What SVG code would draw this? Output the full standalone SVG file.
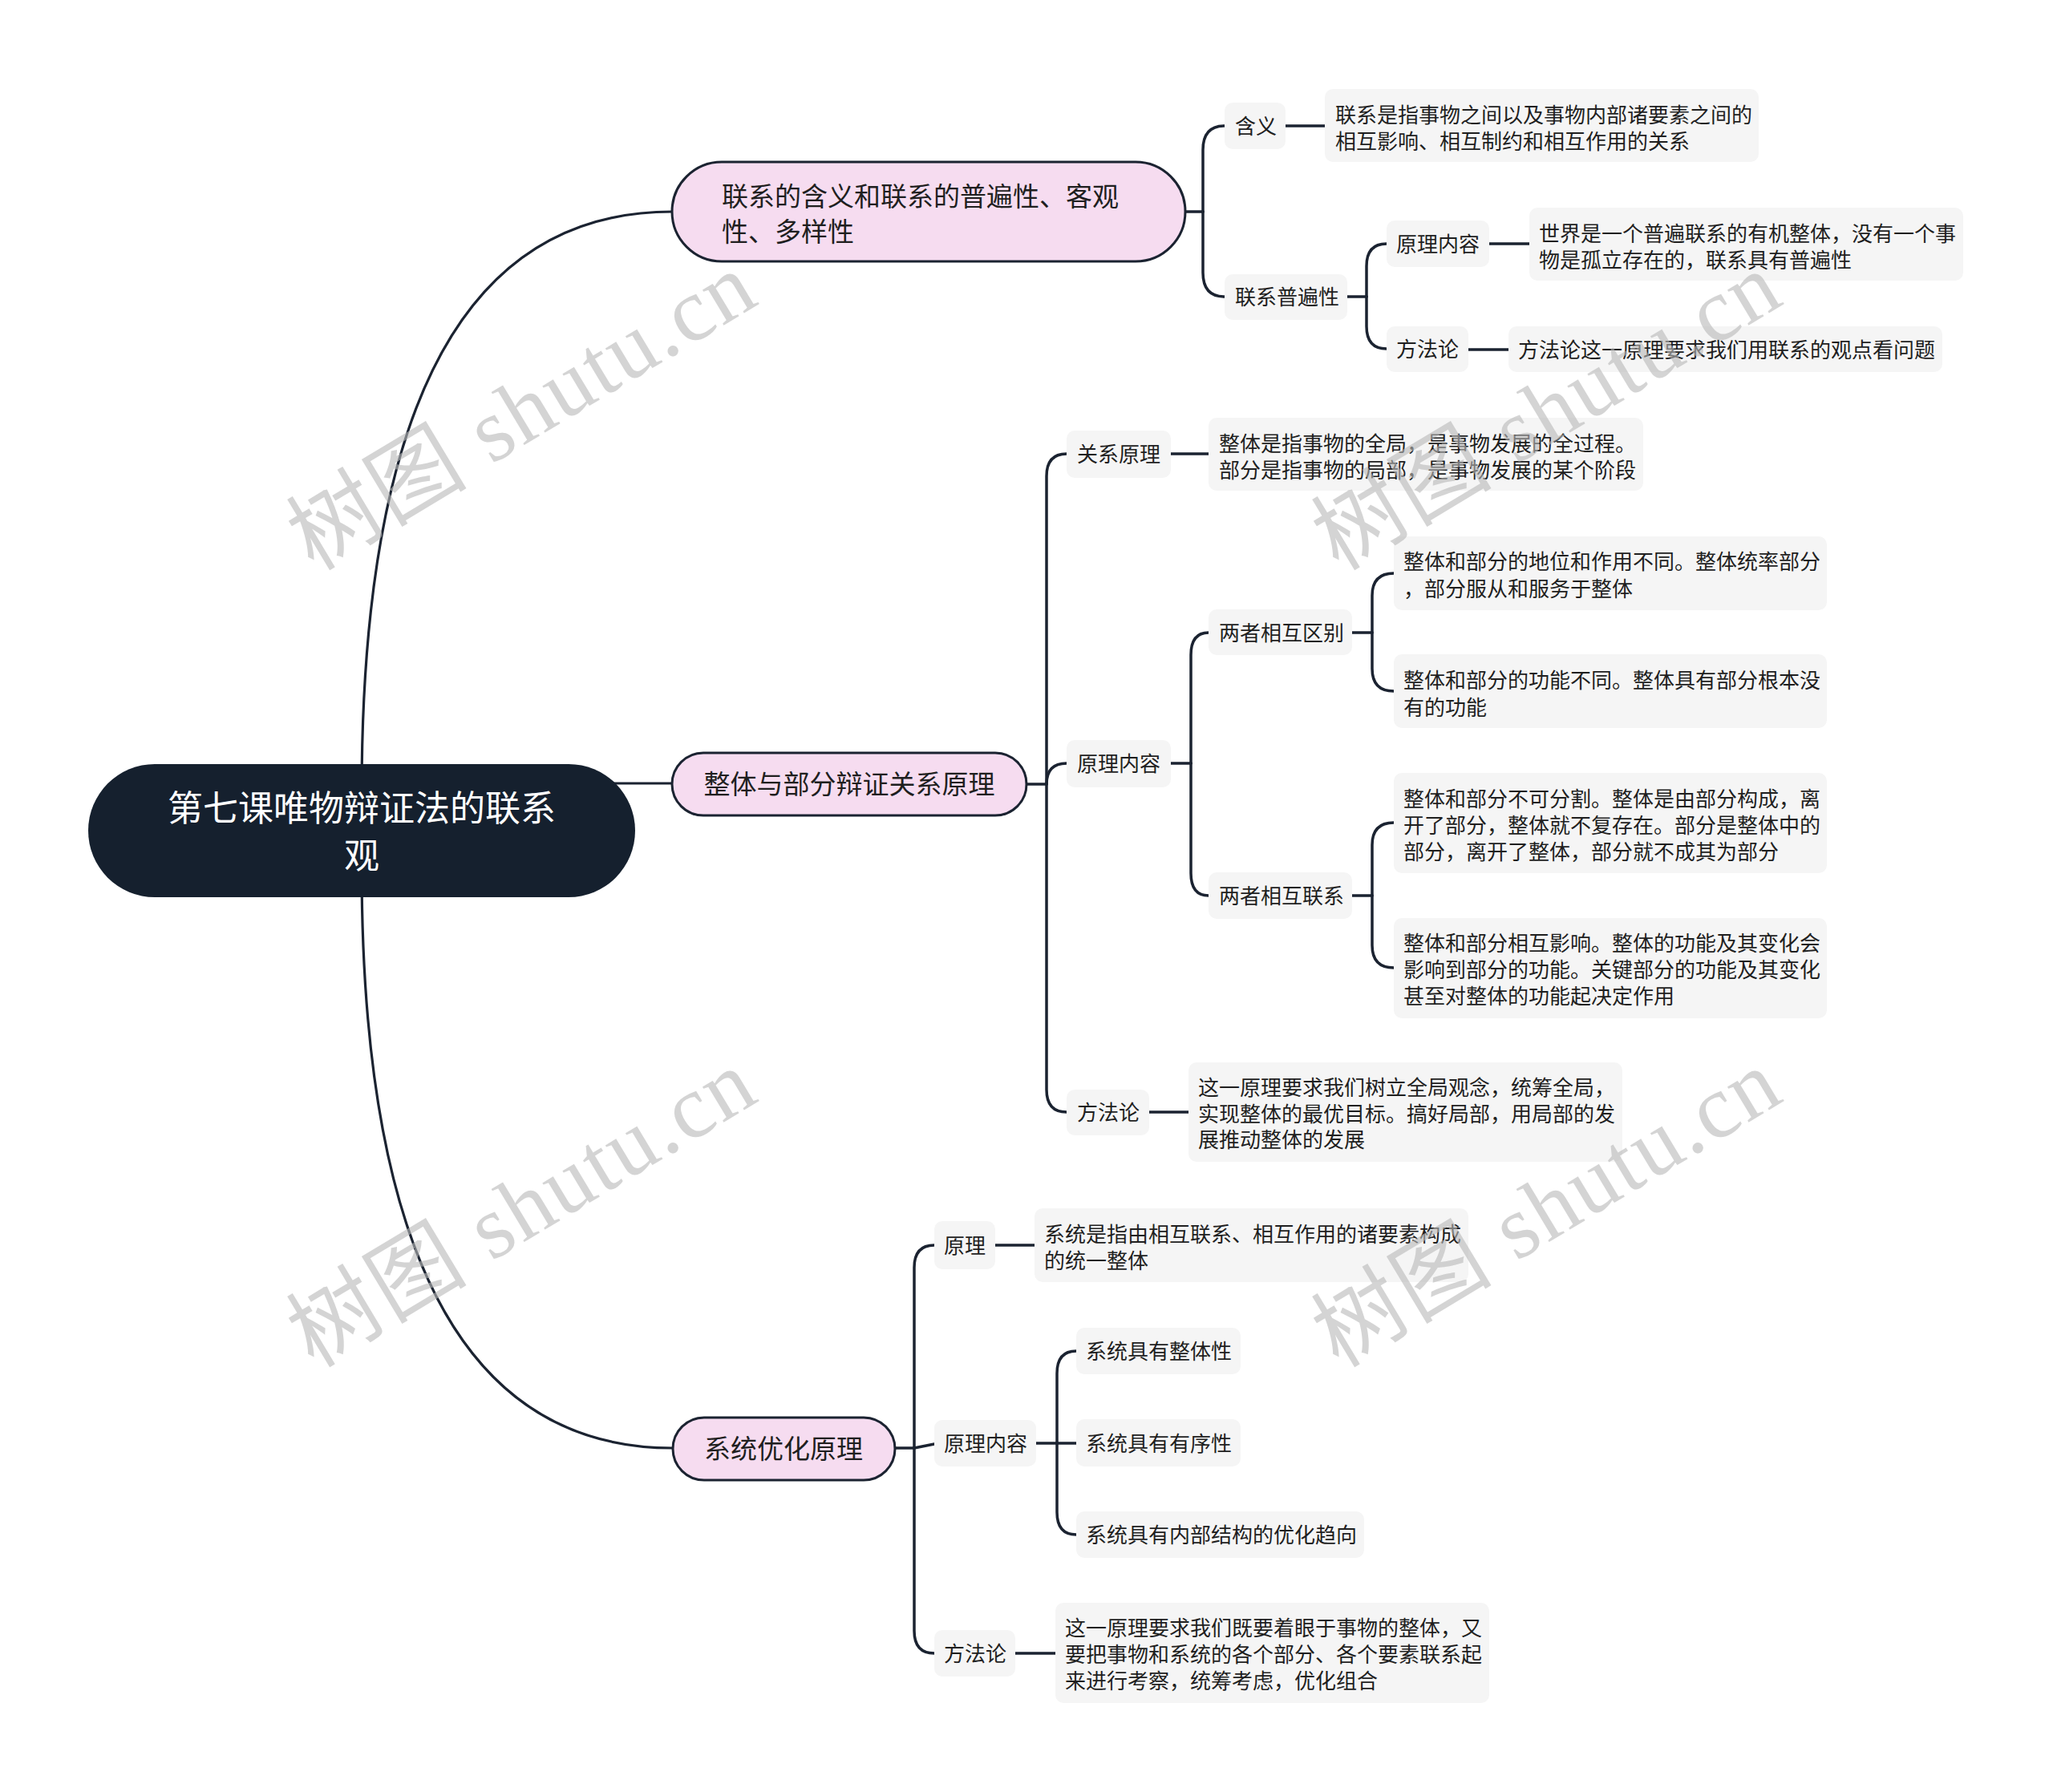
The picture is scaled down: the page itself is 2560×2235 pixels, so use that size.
<svg xmlns="http://www.w3.org/2000/svg" width="2560" height="2235" viewBox="0 0 2560 2235">
<style>
.bg{fill:#ffffff}
.lbl{fill:#f5f5f5}
.br{fill:#f6dcf0;stroke:#1b2331;stroke-width:3}
.t{font-family:"Noto Sans CJK SC","Noto Sans",sans-serif;font-size:26px;fill:#1f1f1f}
.tb{font-family:"Noto Sans CJK SC","Noto Sans",sans-serif;font-size:33px;fill:#1f1f1f}
.tr{font-family:"Noto Sans CJK SC","Noto Sans",sans-serif;font-size:44px;fill:#ffffff}
.conn{fill:none;stroke:#1b2331;stroke-width:3.5;stroke-linecap:round}
.main{fill:none;stroke:#1b2331;stroke-width:3.2}
.wm{font-family:"Liberation Serif","Noto Sans CJK SC",serif;font-size:112px;fill:#b8b8b8;fill-opacity:0.6}
</style>
<rect class="bg" x="0" y="0" width="2560" height="2235"/>
<g id="connectors">
<path class="main" d="M451 990 Q451 264 838 264"/>
<path class="main" d="M700 977 L838 977"/>
<path class="main" d="M451 1080 Q451 1806 839 1806"/>
<path class="conn" d="M1478 264 L1500 264"/>
<path class="conn" d="M1500 264 L1500 187 Q1500 157 1527 157"/>
<path class="conn" d="M1500 264 L1500 340 Q1500 370 1527 370"/>
<path class="conn" d="M1603 157 L1652 157"/>
<path class="conn" d="M1680 370 L1704 370"/>
<path class="conn" d="M1704 370 L1704 332 Q1704 304 1729 304"/>
<path class="conn" d="M1704 370 L1704 407 Q1704 435 1729 435"/>
<path class="conn" d="M1857 304 L1907 304"/>
<path class="conn" d="M1831 436 L1881 436"/>
<path class="conn" d="M1280 978 L1305 978"/>
<path class="conn" d="M1305 978 L1305 594 Q1305 566 1330 566"/>
<path class="conn" d="M1305 978 Q1305 952 1330 952"/>
<path class="conn" d="M1305 978 L1305 1359 Q1305 1387 1330 1387"/>
<path class="conn" d="M1460 566 L1507 566"/>
<path class="conn" d="M1459 952 L1485 952"/>
<path class="conn" d="M1485 952 L1485 817 Q1485 789 1507 789"/>
<path class="conn" d="M1485 952 L1485 1089 Q1485 1117 1507 1117"/>
<path class="conn" d="M1686 789 L1711 789"/>
<path class="conn" d="M1711 789 L1711 743 Q1711 715 1738 715"/>
<path class="conn" d="M1711 789 L1711 834 Q1711 862 1738 862"/>
<path class="conn" d="M1686 1117 L1711 1117"/>
<path class="conn" d="M1711 1117 L1711 1054 Q1711 1026 1738 1026"/>
<path class="conn" d="M1711 1117 L1711 1179 Q1711 1207 1738 1207"/>
<path class="conn" d="M1433 1387 L1482 1387"/>
<path class="conn" d="M1116 1806 L1140 1806"/>
<path class="conn" d="M1140 1806 L1140 1581 Q1140 1553 1165 1553"/>
<path class="conn" d="M1140 1806 L1165 1801"/>
<path class="conn" d="M1140 1806 L1140 2034 Q1140 2062 1165 2062"/>
<path class="conn" d="M1241 1553 L1290 1553"/>
<path class="conn" d="M1292 1800 L1318 1800"/>
<path class="conn" d="M1318 1800 L1318 1713 Q1318 1685 1342 1685"/>
<path class="conn" d="M1318 1800 L1342 1800"/>
<path class="conn" d="M1318 1800 L1318 1886 Q1318 1914 1342 1914"/>
<path class="conn" d="M1266 2062 L1316 2062"/>
</g>
<g id="root">
<rect x="110" y="953" width="682" height="166" rx="83" fill="#15202e"/>
<text class="tr" x="451" y="1024" text-anchor="middle">第七课唯物辩证法的联系</text>
<text class="tr" x="451" y="1083" text-anchor="middle">观</text>
</g>
<g id="b1">
<rect class="br" x="838" y="202" width="640" height="124" rx="62"/>
<text class="tb" x="900" y="257">联系的含义和联系的普遍性、客观</text>
<text class="tb" x="900" y="301">性、多样性</text>
</g>
<g id="b2">
<rect class="br" x="838" y="939" width="442" height="78" rx="39"/>
<text class="tb" x="1059" y="990" text-anchor="middle">整体与部分辩证关系原理</text>
</g>
<g id="b3">
<rect class="br" x="839" y="1768" width="277" height="78" rx="39"/>
<text class="tb" x="977" y="1819" text-anchor="middle">系统优化原理</text>
</g>
<g id="n-hanyi">
<rect class="lbl" x="1527" y="128" width="76" height="58" rx="10"/>
<text class="t" x="1540" y="167">含义</text>
</g>
<g id="d-hanyi">
<rect class="lbl" x="1652" y="111" width="541" height="91" rx="10"/>
<text class="t" x="1665" y="153">联系是指事物之间以及事物内部诸要素之间的</text>
<text class="t" x="1665" y="186">相互影响、相互制约和相互作用的关系</text>
</g>
<g id="n-pbx">
<rect class="lbl" x="1527" y="342" width="153" height="57" rx="10"/>
<text class="t" x="1540" y="380">联系普遍性</text>
</g>
<g id="n-ylnr1">
<rect class="lbl" x="1729" y="275" width="128" height="58" rx="10"/>
<text class="t" x="1741" y="314">原理内容</text>
</g>
<g id="d-ylnr1">
<rect class="lbl" x="1907" y="259" width="541" height="91" rx="10"/>
<text class="t" x="1919" y="301">世界是一个普遍联系的有机整体，没有一个事</text>
<text class="t" x="1919" y="334">物是孤立存在的，联系具有普遍性</text>
</g>
<g id="n-ffl1">
<rect class="lbl" x="1729" y="407" width="102" height="57" rx="10"/>
<text class="t" x="1741" y="445">方法论</text>
</g>
<g id="d-ffl1">
<rect class="lbl" x="1881" y="407" width="541" height="57" rx="10"/>
<text class="t" x="1893" y="446">方法论这一原理要求我们用联系的观点看问题</text>
</g>
<g id="n-gxyl">
<rect class="lbl" x="1330" y="537" width="130" height="59" rx="10"/>
<text class="t" x="1343" y="576">关系原理</text>
</g>
<g id="d-gxyl">
<rect class="lbl" x="1507" y="521" width="542" height="91" rx="10"/>
<text class="t" x="1520" y="563">整体是指事物的全局，是事物发展的全过程。</text>
<text class="t" x="1520" y="596">部分是指事物的局部，是事物发展的某个阶段</text>
</g>
<g id="n-ylnr2">
<rect class="lbl" x="1330" y="923" width="130" height="59" rx="10"/>
<text class="t" x="1343" y="962">原理内容</text>
</g>
<g id="n-qb">
<rect class="lbl" x="1507" y="760" width="179" height="57" rx="10"/>
<text class="t" x="1520" y="799">两者相互区别</text>
</g>
<g id="d-qb1">
<rect class="lbl" x="1738" y="669" width="540" height="92" rx="10"/>
<text class="t" x="1750" y="710">整体和部分的地位和作用不同。整体统率部分</text>
<text class="t" x="1750" y="744">，部分服从和服务于整体</text>
</g>
<g id="d-qb2">
<rect class="lbl" x="1738" y="816" width="540" height="92" rx="10"/>
<text class="t" x="1750" y="858">整体和部分的功能不同。整体具有部分根本没</text>
<text class="t" x="1750" y="892">有的功能</text>
</g>
<g id="n-lx">
<rect class="lbl" x="1507" y="1088" width="179" height="58" rx="10"/>
<text class="t" x="1520" y="1127">两者相互联系</text>
</g>
<g id="d-lx1">
<rect class="lbl" x="1738" y="964" width="540" height="125" rx="10"/>
<text class="t" x="1750" y="1006">整体和部分不可分割。整体是由部分构成，离</text>
<text class="t" x="1750" y="1039">开了部分，整体就不复存在。部分是整体中的</text>
<text class="t" x="1750" y="1072">部分，离开了整体，部分就不成其为部分</text>
</g>
<g id="d-lx2">
<rect class="lbl" x="1738" y="1145" width="540" height="125" rx="10"/>
<text class="t" x="1750" y="1186">整体和部分相互影响。整体的功能及其变化会</text>
<text class="t" x="1750" y="1219">影响到部分的功能。关键部分的功能及其变化</text>
<text class="t" x="1750" y="1252">甚至对整体的功能起决定作用</text>
</g>
<g id="n-ffl2">
<rect class="lbl" x="1330" y="1359" width="103" height="57" rx="10"/>
<text class="t" x="1343" y="1397">方法论</text>
</g>
<g id="d-ffl2">
<rect class="lbl" x="1482" y="1325" width="541" height="124" rx="10"/>
<text class="t" x="1494" y="1366">这一原理要求我们树立全局观念，统筹全局，</text>
<text class="t" x="1494" y="1399">实现整体的最优目标。搞好局部，用局部的发</text>
<text class="t" x="1494" y="1431">展推动整体的发展</text>
</g>
<g id="n-yl">
<rect class="lbl" x="1165" y="1523" width="76" height="60" rx="10"/>
<text class="t" x="1177" y="1563">原理</text>
</g>
<g id="d-yl">
<rect class="lbl" x="1290" y="1507" width="541" height="92" rx="10"/>
<text class="t" x="1302" y="1549">系统是指由相互联系、相互作用的诸要素构成</text>
<text class="t" x="1302" y="1582">的统一整体</text>
</g>
<g id="n-ylnr3">
<rect class="lbl" x="1165" y="1771" width="127" height="58" rx="10"/>
<text class="t" x="1177" y="1810">原理内容</text>
</g>
<g id="n-zt">
<rect class="lbl" x="1342" y="1656" width="205" height="58" rx="10"/>
<text class="t" x="1354" y="1695">系统具有整体性</text>
</g>
<g id="n-yx">
<rect class="lbl" x="1342" y="1770" width="205" height="59" rx="10"/>
<text class="t" x="1354" y="1810">系统具有有序性</text>
</g>
<g id="n-nb">
<rect class="lbl" x="1342" y="1885" width="359" height="58" rx="10"/>
<text class="t" x="1354" y="1924">系统具有内部结构的优化趋向</text>
</g>
<g id="n-ffl3">
<rect class="lbl" x="1165" y="2033" width="101" height="58" rx="10"/>
<text class="t" x="1177" y="2072">方法论</text>
</g>
<g id="d-ffl3">
<rect class="lbl" x="1316" y="1999" width="541" height="125" rx="10"/>
<text class="t" x="1328" y="2040">这一原理要求我们既要着眼于事物的整体，又</text>
<text class="t" x="1328" y="2073">要把事物和系统的各个部分、各个要素联系起</text>
<text class="t" x="1328" y="2106">来进行考察，统筹考虑，优化组合</text>
</g>
<g id="watermarks">
<text class="wm" transform="translate(650,513) rotate(-31)" x="0" y="38" text-anchor="middle" textLength="650">树图 shutu.cn</text>
<text class="wm" transform="translate(1928,513) rotate(-31)" x="0" y="38" text-anchor="middle" textLength="650">树图 shutu.cn</text>
<text class="wm" transform="translate(650,1507) rotate(-31)" x="0" y="38" text-anchor="middle" textLength="650">树图 shutu.cn</text>
<text class="wm" transform="translate(1928,1507) rotate(-31)" x="0" y="38" text-anchor="middle" textLength="650">树图 shutu.cn</text>
</g>
</svg>
